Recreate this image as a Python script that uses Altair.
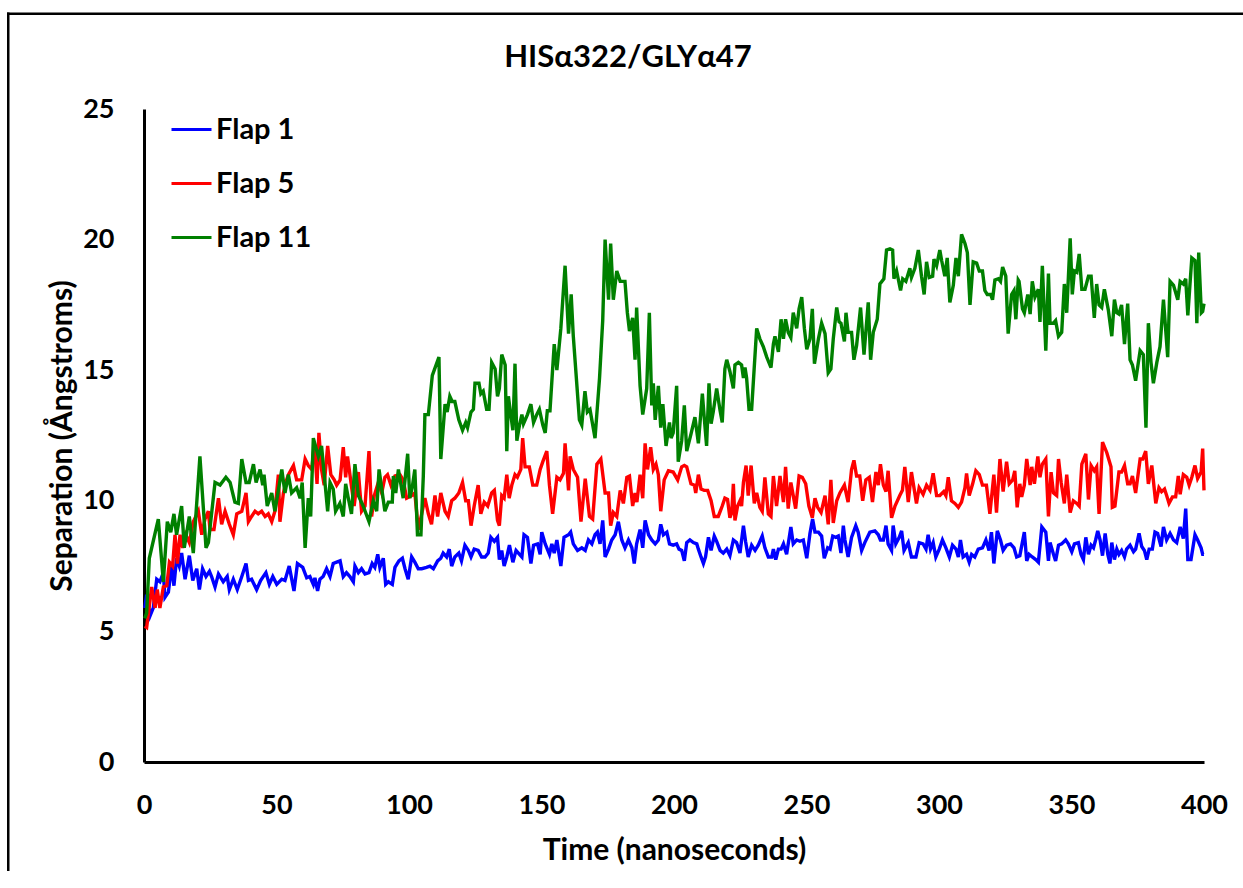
import altair as alt
import pandas as pd

FONT = "Lato"

# Separation traces (Angstrom) against simulation time (ns)
flap1_time = [
    0.3, 1.0, 2.3, 3.5, 4.8, 6.0, 7.3, 7.9, 9.2, 10.4, 11.3, 12.3, 13.3, 14.2, 15.5, 17.1, 18.4, 19.9, 20.9, 22.1,
    23.4, 24.7, 25.5, 26.8, 28.1, 29.9, 31.4, 32.2, 33.7, 35.2, 36.9, 38.5, 39.4, 40.6, 42.5, 44.0, 46.0, 47.3, 48.6, 50.1,
    52.0, 53.2, 54.8, 56.6, 57.9, 59.9, 61.4, 62.6, 63.9, 64.5, 65.5, 66.4, 67.6, 68.9, 70.2, 71.4, 72.7, 74.0, 75.2, 76.4,
    77.7, 79.0, 79.6, 80.9, 82.1, 83.4, 84.9, 86.1, 87.1, 88.2, 89.0, 90.3, 91.2, 92.2, 93.7, 94.7, 96.2, 97.5, 98.5, 99.7,
    101.0, 102.2, 103.5, 104.8, 106.6, 107.9, 109.2, 110.8, 112.0, 112.9, 114.2, 115.2, 116.1, 117.3, 118.8, 119.8, 121.1, 122.4, 123.4, 124.6,
    126.1, 127.4, 128.7, 129.9, 130.9, 132.2, 133.4, 134.1, 135.0, 135.9, 136.9, 137.9, 139.2, 140.4, 141.7, 142.6, 143.4, 144.7, 146.0, 147.0,
    148.5, 149.5, 150.1, 151.4, 153.0, 153.9, 154.8, 155.8, 157.3, 158.5, 160.2, 161.0, 162.0, 163.6, 165.2, 166.5, 167.7, 169.0, 170.2, 171.1,
    172.1, 173.1, 174.0, 175.3, 176.5, 177.8, 179.0, 180.3, 181.5, 182.8, 184.1, 185.0, 185.9, 187.2, 188.2, 189.1, 190.4, 191.6, 192.9, 194.1,
    195.0, 196.0, 197.3, 198.3, 199.7, 201.0, 201.9, 202.9, 203.9, 204.8, 206.0, 207.3, 208.6, 209.2, 210.2, 211.1, 211.9, 213.0, 214.0, 215.2,
    216.1, 217.4, 218.6, 219.9, 221.1, 222.4, 223.6, 224.9, 226.2, 227.0, 228.0, 229.3, 230.6, 231.8, 233.3, 234.3, 235.6, 236.9, 237.5, 238.4,
    239.4, 240.4, 241.3, 242.5, 244.1, 245.0, 246.3, 247.5, 248.8, 250.1, 251.3, 252.3, 253.2, 254.5, 255.7, 256.7, 258.0, 258.9, 259.9, 261.0,
    262.0, 263.0, 263.9, 264.5, 265.7, 267.0, 268.6, 269.5, 270.8, 272.0, 273.9, 275.8, 277.1, 277.9, 279.0, 280.0, 280.8, 282.1, 282.7, 283.7,
    285.0, 285.9, 286.8, 288.4, 289.6, 291.3, 292.5, 294.0, 295.1, 295.9, 296.8, 297.8, 298.8, 300.1, 301.3, 302.6, 303.9, 305.1, 306.4, 307.3,
    308.1, 309.1, 310.4, 311.4, 312.3, 313.5, 314.8, 316.4, 317.7, 318.9, 319.8, 320.7, 322.0, 323.2, 324.2, 325.5, 327.0, 328.3, 329.3, 330.5,
    332.2, 333.1, 334.0, 335.2, 336.5, 337.5, 338.8, 340.3, 341.3, 341.9, 343.2, 344.0, 345.1, 346.3, 347.8, 348.8, 350.1, 351.1, 352.6, 353.6,
    354.5, 355.4, 356.4, 357.4, 358.3, 359.1, 359.9, 360.8, 361.7, 362.7, 363.7, 364.5, 365.2, 366.2, 367.1, 367.9, 368.9, 370.0, 370.8, 372.1,
    373.4, 374.2, 375.5, 376.5, 377.5, 378.4, 379.3, 380.5, 381.5, 382.5, 383.8, 384.7, 385.9, 387.2, 388.5, 389.7, 391.0, 392.2, 393.1, 393.9,
    395.1, 396.6, 397.6, 398.9, 399.5, 400.0,
]
flap1_sep = [
    5.9, 6.4, 5.6, 5.9, 7.0, 6.9, 7.25, 6.3, 6.5, 7.5, 6.75, 7.8, 7.5, 8.0, 7.0, 7.9, 6.95, 7.4, 6.6, 7.4,
    7.1, 7.3, 7.1, 6.7, 7.2, 6.9, 7.1, 6.6, 7.0, 6.6, 7.1, 7.6, 6.95, 7.0, 6.6, 6.95, 7.25, 6.8, 7.1, 6.8,
    7.0, 6.95, 7.5, 6.55, 7.6, 7.45, 7.05, 7.1, 6.8, 7.05, 6.55, 7.0, 7.1, 7.4, 7.1, 7.6, 7.65, 7.7, 7.1, 7.25,
    7.1, 6.9, 7.5, 7.25, 7.4, 7.2, 7.25, 7.6, 7.45, 7.95, 7.45, 7.8, 6.8, 6.9, 6.8, 7.45, 7.7, 7.8, 7.4, 7.0,
    7.85, 7.65, 7.4, 7.4, 7.45, 7.5, 7.4, 7.7, 7.8, 8.0, 7.85, 8.15, 7.5, 7.85, 8.0, 7.7, 8.3, 8.1, 7.85, 8.15,
    8.1, 7.85, 7.85, 8.0, 8.6, 8.45, 8.6, 7.75, 8.1, 7.5, 7.85, 8.3, 7.65, 8.1, 7.95, 7.85, 8.7, 8.6, 7.6, 8.3,
    8.35, 7.95, 8.8, 8.35, 7.95, 8.35, 8.0, 8.5, 7.5, 8.6, 8.7, 8.8, 8.35, 8.1, 8.2, 8.1, 8.5, 8.35, 8.7, 8.8,
    8.35, 9.25, 7.85, 8.15, 8.5, 8.7, 9.2, 8.5, 8.2, 8.5, 8.2, 7.6, 8.35, 8.9, 8.2, 9.25, 8.7, 8.5, 8.35, 8.5,
    9.1, 8.7, 8.8, 8.35, 8.3, 8.35, 8.15, 8.1, 7.7, 8.4, 8.5, 8.4, 8.35, 8.15, 7.85, 7.6, 7.85, 8.6, 8.1, 8.65,
    8.45, 8.1, 8.0, 8.15, 7.9, 8.5, 8.4, 8.0, 9.05, 8.45, 7.85, 8.3, 8.1, 8.3, 8.65, 8.2, 7.85, 7.85, 8.15, 7.75,
    8.15, 8.15, 8.35, 7.95, 9.0, 8.35, 8.5, 8.45, 8.5, 7.8, 8.75, 9.3, 8.8, 8.8, 8.65, 7.8, 8.2, 8.15, 8.65, 8.6,
    8.65, 8.0, 9.05, 8.5, 7.85, 8.6, 9.05, 8.8, 8.1, 8.4, 8.8, 8.85, 8.7, 8.5, 8.5, 9.05, 8.35, 8.1, 9.05, 8.35,
    8.6, 8.85, 8.1, 8.4, 7.85, 7.85, 8.4, 8.35, 8.15, 8.7, 8.15, 8.4, 7.85, 8.15, 8.5, 8.2, 7.85, 8.3, 8.15, 7.85,
    8.5, 7.85, 7.95, 7.65, 7.95, 7.85, 8.15, 8.2, 8.5, 8.1, 8.8, 7.6, 8.85, 8.5, 8.1, 8.3, 8.35, 8.2, 7.85, 7.9,
    8.8, 7.7, 7.95, 7.85, 7.75, 7.65, 9.0, 8.8, 7.7, 8.4, 7.95, 7.7, 8.3, 8.35, 8.5, 8.35, 8.05, 8.35, 8.4, 7.95,
    7.75, 8.6, 7.95, 8.3, 8.2, 8.5, 8.85, 8.5, 7.9, 8.75, 7.95, 7.6, 8.4, 7.75, 8.15, 7.95, 8.1, 7.85, 8.15, 8.3,
    8.05, 8.15, 8.75, 8.25, 8.1, 7.75, 8.15, 8.15, 8.8, 8.75, 8.25, 9.0, 8.5, 8.75, 8.5, 8.4, 9.0, 8.55, 9.7, 7.75,
    7.75, 8.7, 8.5, 8.2, 7.95, 7.95,
]

flap5_time = [
    0.3, 1.0, 2.9, 4.2, 5.0, 6.0, 7.3, 8.6, 9.6, 10.8, 11.7, 12.6, 13.6, 14.6, 15.8, 17.1, 18.6, 20.5, 21.8, 23.0,
    24.3, 24.9, 26.4, 28.1, 29.3, 30.6, 32.2, 33.7, 35.0, 36.9, 38.5, 39.4, 40.6, 41.9, 43.1, 44.4, 45.7, 46.9, 48.2, 49.4,
    50.7, 51.3, 52.6, 53.8, 54.5, 56.4, 57.6, 59.5, 60.8, 62.0, 63.3, 64.3, 65.3, 66.0, 67.0, 68.0, 69.3, 70.5, 71.8, 72.7,
    74.0, 75.2, 76.1, 76.8, 78.1, 79.3, 80.9, 82.1, 83.4, 84.9, 85.9, 86.9, 88.4, 89.7, 90.9, 91.9, 93.2, 94.7, 96.6, 97.8,
    99.1, 101.0, 102.2, 103.5, 104.8, 106.0, 107.3, 108.5, 109.8, 110.8, 112.0, 113.6, 114.8, 116.1, 117.3, 118.8, 120.2, 121.4, 122.4, 123.4,
    124.6, 126.1, 127.1, 128.4, 129.7, 131.2, 132.2, 133.4, 134.1, 135.0, 135.9, 136.9, 137.8, 138.8, 140.0, 140.9, 142.2, 142.9, 143.8, 145.4,
    146.7, 148.2, 149.5, 150.5, 152.0, 153.0, 154.2, 155.8, 157.0, 158.3, 158.9, 160.2, 160.8, 162.0, 163.6, 164.9, 166.5, 168.1, 169.3, 170.9,
    172.4, 174.0, 175.3, 176.1, 177.1, 178.4, 179.7, 180.9, 182.2, 183.2, 184.4, 185.3, 186.0, 187.2, 188.2, 189.1, 190.0, 191.2, 192.2, 193.2,
    194.1, 195.0, 196.3, 197.9, 199.7, 201.4, 202.9, 203.9, 204.8, 206.4, 207.7, 208.2, 209.2, 210.2, 211.4, 212.7, 214.0, 215.2, 216.7, 218.2,
    219.2, 220.2, 221.1, 221.8, 222.4, 223.0, 224.0, 224.9, 225.5, 226.2, 227.2, 228.0, 229.1, 230.3, 231.2, 232.4, 233.3, 234.3, 235.6, 236.6,
    237.5, 238.7, 240.0, 241.3, 242.1, 243.1, 244.1, 245.0, 245.9, 247.2, 248.4, 249.7, 250.9, 252.2, 253.2, 254.2, 255.5, 257.0, 258.2, 259.2,
    260.1, 261.4, 262.6, 264.3, 265.7, 267.0, 267.9, 268.9, 270.1, 271.2, 272.4, 273.7, 274.9, 276.2, 277.1, 277.9, 279.0, 280.0, 280.8, 282.1,
    283.4, 285.2, 286.2, 287.1, 288.4, 289.6, 291.5, 292.5, 294.0, 295.3, 296.6, 297.8, 299.1, 300.3, 301.8, 302.6, 303.5, 304.7, 306.0, 307.3,
    308.5, 309.8, 310.4, 311.4, 312.7, 313.9, 315.2, 316.4, 317.9, 319.2, 320.7, 321.7, 323.0, 324.2, 325.5, 326.5, 327.8, 328.6, 329.5, 330.5,
    331.2, 332.2, 333.1, 334.4, 335.0, 336.0, 337.3, 338.1, 339.0, 340.3, 341.3, 342.3, 343.2, 344.4, 345.1, 346.1, 347.3, 348.2, 349.5, 350.7,
    352.0, 352.9, 353.9, 355.4, 356.4, 357.4, 358.6, 359.5, 360.4, 361.7, 363.3, 364.9, 365.4, 366.4, 367.9, 368.9, 370.0, 371.2, 372.1, 373.0,
    374.2, 375.9, 376.9, 378.0, 379.0, 380.3, 381.8, 383.0, 384.0, 385.1, 385.9, 386.8, 388.1, 389.3, 390.3, 391.0, 392.2, 393.5, 394.4, 395.4,
    396.6, 397.6, 398.9, 399.5, 400.0,
]
flap5_sep = [
    5.2, 5.15, 6.7, 5.9, 6.6, 5.9, 6.7, 6.75, 7.65, 7.5, 8.7, 7.6, 8.7, 8.2, 8.7, 8.4, 9.2, 9.6, 8.7, 9.3,
    9.6, 8.9, 8.9, 10.1, 9.1, 9.6, 9.1, 8.7, 9.5, 9.6, 10.3, 9.2, 9.4, 9.6, 9.5, 9.6, 9.4, 9.5, 9.2, 9.6,
    11.0, 9.2, 10.3, 10.8, 11.0, 11.35, 10.8, 10.8, 11.6, 11.35, 11.2, 12.2, 10.65, 12.6, 11.2, 10.6, 12.1, 11.0, 10.8, 10.6,
    10.8, 12.05, 10.9, 11.7, 10.7, 9.8, 11.1, 9.6, 9.8, 11.9, 9.4, 10.2, 10.7, 10.3, 10.9, 11.0, 10.6, 10.95, 11.0, 10.8,
    10.1, 10.2, 10.3, 8.9, 9.5, 10.1, 9.5, 9.1, 10.2, 9.4, 10.3, 9.6, 9.4, 10.0, 10.1, 10.3, 10.7, 10.0, 10.0, 9.05,
    9.8, 10.6, 9.5, 9.95, 9.8, 10.3, 10.4, 9.25, 9.05, 10.2, 10.1, 11.0, 10.1, 10.6, 11.0, 10.9, 11.2, 12.4, 11.3, 11.3,
    10.6, 10.6, 11.2, 11.5, 11.9, 10.6, 9.5, 10.9, 10.8, 11.05, 12.2, 10.4, 11.7, 11.2, 10.9, 9.2, 10.85, 9.4, 9.3, 11.4,
    11.6, 10.3, 10.3, 9.05, 9.55, 9.4, 10.4, 9.9, 10.9, 10.95, 9.8, 10.3, 9.95, 11.0, 10.1, 12.2, 11.2, 12.05, 11.2, 11.4,
    11.0, 9.6, 10.8, 11.15, 11.1, 10.8, 11.3, 11.35, 11.3, 10.65, 10.6, 10.3, 11.0, 10.45, 10.4, 10.4, 10.0, 9.4, 9.4, 9.8,
    10.1, 10.05, 9.35, 9.55, 10.65, 9.25, 9.8, 10.0, 9.8, 10.7, 11.35, 10.2, 11.35, 9.9, 10.3, 9.75, 9.6, 10.9, 9.5, 9.4,
    10.95, 9.8, 10.95, 9.95, 11.3, 9.7, 10.7, 10.2, 9.7, 10.95, 10.9, 10.65, 9.8, 9.35, 10.1, 9.75, 9.55, 10.2, 9.1, 10.8,
    9.15, 10.0, 10.3, 10.6, 9.95, 11.2, 11.55, 10.95, 10.95, 10.0, 10.8, 10.9, 9.95, 11.1, 10.6, 11.4, 10.6, 10.35, 11.15, 9.35,
    9.8, 10.2, 10.4, 11.3, 9.95, 11.1, 9.9, 10.5, 10.25, 10.6, 10.4, 11.05, 10.2, 10.2, 10.35, 10.2, 10.9, 10.0, 9.9, 9.75,
    9.95, 10.5, 11.05, 10.2, 10.65, 11.15, 11.0, 10.6, 10.6, 9.5, 11.0, 9.55, 11.6, 10.35, 11.5, 10.65, 10.8, 11.15, 9.75, 10.65,
    10.15, 10.6, 11.6, 10.6, 11.3, 10.65, 11.7, 10.9, 11.4, 11.6, 9.4, 11.1, 10.3, 10.2, 11.6, 10.7, 9.9, 11.0, 9.55, 10.0,
    9.9, 9.8, 11.4, 11.8, 10.05, 11.35, 11.15, 11.3, 9.5, 12.25, 11.85, 11.3, 9.75, 9.8, 11.1, 11.1, 11.35, 10.65, 10.65, 10.95,
    10.3, 11.6, 11.6, 11.9, 10.65, 11.35, 9.9, 10.5, 10.35, 10.45, 10.2, 9.9, 10.15, 10.15, 10.95, 10.25, 11.0, 10.9, 10.6, 10.9,
    11.35, 10.85, 11.1, 12.0, 10.4,
]

flap11_time = [
    0.3, 1.0, 2.0, 5.4, 7.3, 8.8, 10.1, 11.3, 12.3, 14.2, 15.2, 17.1, 18.6, 21.1, 23.4, 24.3, 26.8, 28.7, 30.9, 32.5,
    34.3, 35.6, 36.9, 38.5, 39.7, 41.3, 42.3, 43.8, 44.8, 45.3, 46.5, 48.2, 49.4, 52.0, 53.2, 54.5, 55.7, 57.6, 58.9, 59.7,
    60.8, 62.0, 62.9, 63.9, 65.8, 67.0, 69.3, 70.2, 71.4, 72.3, 73.9, 75.2, 76.1, 77.1, 78.3, 79.6, 80.9, 82.7, 84.9, 86.5,
    87.8, 88.7, 90.9, 92.2, 93.7, 94.1, 95.0, 96.0, 97.8, 99.5, 100.3, 101.2, 102.2, 103.2, 104.5, 105.4, 106.0, 107.3, 108.8, 111.3,
    112.0, 113.6, 114.4, 115.4, 116.3, 117.3, 118.8, 120.2, 121.4, 122.1, 123.4, 124.3, 124.9, 126.4, 127.1, 128.0, 129.3, 130.2, 131.2, 132.5,
    133.4, 134.1, 135.0, 136.3, 136.9, 137.5, 138.4, 139.2, 140.0, 140.7, 141.7, 142.6, 143.2, 144.7, 146.0, 147.0, 148.2, 149.2, 150.5, 151.4,
    152.2, 153.2, 154.8, 155.8, 157.3, 158.9, 160.2, 161.2, 162.0, 164.3, 165.2, 166.4, 167.3, 168.3, 170.2, 171.9, 173.1, 174.0, 175.3, 176.1,
    177.1, 178.4, 179.7, 181.5, 182.4, 183.2, 184.4, 185.3, 185.9, 187.2, 188.2, 189.7, 190.7, 191.6, 192.2, 192.9, 194.1, 195.0, 195.8, 197.0,
    198.3, 198.9, 199.7, 201.0, 201.6, 202.9, 203.9, 204.8, 206.4, 207.9, 209.2, 210.7, 211.4, 212.3, 213.2, 214.0, 214.8, 216.1, 217.4, 218.2,
    219.2, 219.9, 221.1, 222.4, 223.0, 224.3, 225.5, 226.2, 226.8, 227.4, 228.3, 229.3, 231.2, 232.4, 233.7, 235.0, 236.6, 237.5, 238.1, 239.4,
    240.4, 241.3, 242.1, 243.1, 244.1, 245.0, 246.3, 247.2, 248.2, 249.2, 250.1, 251.3, 252.2, 253.0, 254.5, 255.7, 257.0, 258.2, 259.2, 260.1,
    261.4, 262.3, 263.0, 264.3, 264.9, 265.7, 267.0, 267.9, 268.9, 270.4, 271.7, 273.3, 274.2, 275.2, 276.7, 277.7, 279.2, 280.2, 281.5, 282.5,
    283.0, 284.0, 285.5, 286.3, 287.5, 289.0, 289.6, 290.9, 292.2, 293.4, 294.4, 295.3, 296.3, 297.6, 298.1, 299.1, 300.3, 301.0, 302.2, 303.1,
    304.1, 305.4, 306.4, 307.3, 308.5, 309.8, 310.7, 311.7, 312.9, 314.2, 315.2, 316.4, 317.3, 318.2, 319.5, 320.2, 321.1, 322.4, 323.2, 324.0,
    325.2, 326.1, 327.4, 328.3, 329.0, 329.9, 330.2, 331.5, 332.2, 333.5, 334.4, 335.2, 336.2, 337.5, 338.1, 339.0, 340.3, 341.3, 341.9, 343.2,
    344.0, 345.1, 346.3, 347.3, 348.2, 349.5, 350.3, 351.1, 352.0, 352.9, 353.9, 355.1, 356.4, 357.4, 358.6, 359.5, 360.4, 361.4, 362.4, 363.9,
    365.2, 366.2, 367.1, 367.9, 368.9, 370.0, 371.2, 372.1, 373.0, 374.2, 375.9, 377.1, 378.1, 379.0, 380.0, 380.9, 382.2, 383.4, 384.7, 386.3,
    387.2, 388.5, 390.1, 391.0, 392.2, 393.1, 393.9, 395.4, 396.6, 397.3, 398.0, 399.0, 399.5, 400.0,
]
flap11_sep = [
    5.5, 5.7, 7.8, 9.3, 6.9, 9.2, 8.8, 9.5, 8.7, 9.8, 8.2, 9.4, 8.0, 11.7, 8.2, 8.4, 10.7, 10.6, 10.9, 10.7,
    9.95, 9.9, 11.6, 10.7, 10.7, 11.4, 10.7, 11.2, 10.6, 11.0, 9.8, 10.3, 9.6, 11.2, 10.3, 11.0, 10.3, 10.5, 10.1, 10.7,
    8.2, 10.1, 9.4, 12.4, 11.7, 12.1, 9.6, 10.7, 10.45, 9.6, 9.9, 9.4, 10.65, 10.1, 9.5, 11.4, 10.2, 9.8, 9.2, 10.0,
    9.6, 11.2, 9.6, 9.95, 9.95, 10.95, 10.3, 11.2, 10.1, 11.8, 10.1, 10.5, 11.2, 8.7, 8.7, 10.95, 13.3, 13.3, 14.8, 15.5,
    11.6, 13.7, 13.4, 14.0, 13.8, 13.8, 13.1, 12.7, 13.0, 12.8, 13.4, 13.5, 14.5, 14.5, 14.1, 14.2, 13.5, 13.5, 15.3, 15.05,
    14.0, 14.3, 15.6, 15.2, 11.9, 14.0, 13.3, 12.7, 15.25, 12.3, 12.9, 13.3, 12.95, 13.3, 13.7, 13.0, 13.3, 13.5, 12.9, 12.6,
    13.45, 13.45, 16.0, 15.0, 16.6, 19.0, 16.4, 17.9, 16.3, 13.1, 12.9, 14.2, 13.4, 13.5, 12.4, 14.7, 16.9, 20.0, 17.7, 19.85,
    17.7, 18.8, 18.4, 18.4, 17.2, 16.5, 17.0, 15.4, 17.4, 14.4, 13.3, 14.3, 17.2, 13.65, 14.5, 13.1, 14.4, 12.8, 13.7, 12.1,
    13.0, 12.4, 12.6, 14.4, 11.5, 12.3, 13.65, 11.9, 12.55, 13.2, 12.2, 14.1, 13.2, 12.1, 14.5, 12.95, 13.4, 14.3, 13.45, 13.0,
    15.05, 15.4, 14.95, 14.3, 15.2, 15.3, 15.2, 14.7, 15.1, 14.7, 13.5, 13.5, 16.6, 16.2, 15.9, 15.5, 15.1, 16.0, 16.3, 15.7,
    16.95, 16.2, 16.95, 16.45, 16.25, 17.2, 16.6, 17.35, 17.8, 16.6, 15.8, 16.2, 17.35, 15.25, 16.2, 16.8, 16.4, 14.9, 15.05, 16.2,
    17.4, 16.85, 16.8, 16.1, 17.2, 16.45, 16.45, 15.4, 15.95, 17.4, 15.6, 17.6, 15.4, 16.45, 16.95, 18.3, 18.5, 19.6, 19.65, 19.6,
    18.5, 18.8, 18.05, 18.5, 18.4, 18.9, 18.55, 18.9, 19.6, 18.6, 17.9, 19.15, 18.55, 18.6, 19.25, 19.0, 19.6, 19.2, 18.6, 19.3,
    17.6, 18.25, 19.3, 18.6, 20.2, 19.85, 19.5, 17.5, 19.15, 19.1, 18.8, 18.8, 18.05, 17.9, 17.9, 17.7, 18.45, 18.5, 18.4, 18.95,
    18.6, 16.4, 17.9, 18.05, 16.95, 18.45, 18.4, 17.35, 17.2, 17.9, 17.15, 18.4, 17.8, 18.1, 16.85, 19.0, 15.75, 18.7, 16.8, 16.8,
    16.9, 16.3, 16.45, 18.3, 17.2, 20.05, 17.9, 18.8, 18.75, 19.45, 18.1, 18.1, 18.6, 18.6, 17.0, 18.3, 17.5, 17.4, 18.1, 17.3,
    16.3, 17.7, 17.2, 17.15, 17.5, 16.0, 17.55, 15.4, 15.2, 14.6, 15.75, 15.6, 12.8, 16.8, 15.3, 14.5, 15.3, 15.9, 17.7, 15.5,
    18.4, 18.25, 17.7, 18.4, 18.3, 18.5, 17.1, 19.3, 19.2, 16.8, 19.5, 17.2, 17.25, 17.55,
]

series_names = ["Flap 1", "Flap 5", "Flap 11"]
series_colors = ["#0000FF", "#FF0000", "#008000"]
series_data = [
    (flap1_time, flap1_sep),
    (flap5_time, flap5_sep),
    (flap11_time, flap11_sep),
]

x_ticks = [0, 50, 100, 150, 200, 250, 300, 350, 400]
y_ticks = [0, 5, 10, 15, 20, 25]
chart_title = "HISα322/GLYα47"

frames = []
for name, (ts, vs) in zip(series_names, series_data):
    frames.append(pd.DataFrame({"time": ts, "separation": vs, "flap": name}))
df = pd.concat(frames, ignore_index=True)

PLOT_W, PLOT_H = 1060, 653
PAD = {"left": 144, "top": 109, "right": 39, "bottom": 126}

lines = alt.Chart(df).mark_line(strokeWidth=3.4).encode(
    x=alt.X(
        "time:Q",
        scale=alt.Scale(domain=[0, 400], nice=False),
        axis=alt.Axis(
            values=x_ticks,
            title="Time (nanoseconds)",
            labelFlush=False,
            labelPadding=30,
            titleX=PLOT_W / 2,
            titleY=88,
            titleBaseline="middle",
        ),
    ),
    y=alt.Y(
        "separation:Q",
        scale=alt.Scale(domain=[0, 25], nice=False),
        axis=alt.Axis(
            values=y_ticks,
            title="Separation (Ångstroms)",
            labelPadding=30,
            titleAngle=-90,
            titleX=-82,
            titleY=PLOT_H / 2,
            titleAlign="center",
            titleBaseline="middle",
        ),
    ),
    color=alt.Color(
        "flap:N",
        scale=alt.Scale(domain=series_names, range=series_colors),
        sort=series_names,
        legend=alt.Legend(
            title=None,
            orient="none",
            legendX=26,
            legendY=-1,
            symbolType="stroke",
            symbolSize=1600,
            symbolStrokeWidth=3,
            labelFont=FONT,
            labelFontSize=29,
            labelFontWeight="bold",
            labelColor="black",
            labelOffset=3,
            rowPadding=17,
            padding=0,
        ),
    ),
    order=alt.Order("time:Q"),
)

title_mark = alt.Chart(pd.DataFrame({"label": [chart_title]})).mark_text(
    font=FONT, fontSize=31, fontWeight="bold", color="black",
    align="center", baseline="middle",
).encode(text="label:N", x=alt.value(484), y=alt.value(-51))

# Outer frame: its top and left edges lie inside the canvas, drawn as thin bars
frame_top = alt.Chart(pd.DataFrame({"k": [0]})).mark_rect(color="black").encode(
    x=alt.value(-137), x2=alt.value(PLOT_W + 80),
    y=alt.value(-96.5), y2=alt.value(-94),
)
frame_left = alt.Chart(pd.DataFrame({"k": [0]})).mark_rect(color="black").encode(
    x=alt.value(-137), x2=alt.value(-134.5),
    y=alt.value(-96.5), y2=alt.value(PLOT_H + 109),
)

chart = alt.layer(frame_top, frame_left, lines, title_mark).properties(
    width=PLOT_W,
    height=PLOT_H,
    padding=PAD,
    autosize=alt.AutoSizeParams(type="none"),
    background="white",
).configure_view(stroke=None).configure_axis(
    domainColor="black",
    domainWidth=3,
    ticks=False,
    grid=False,
    labelFont=FONT,
    labelFontSize=27,
    labelFontWeight="bold",
    labelColor="black",
    titleFont=FONT,
    titleFontSize=30,
    titleFontWeight="bold",
    titleColor="black",
)

chart.save("out.html", embed_options={"renderer": "svg", "actions": False})
